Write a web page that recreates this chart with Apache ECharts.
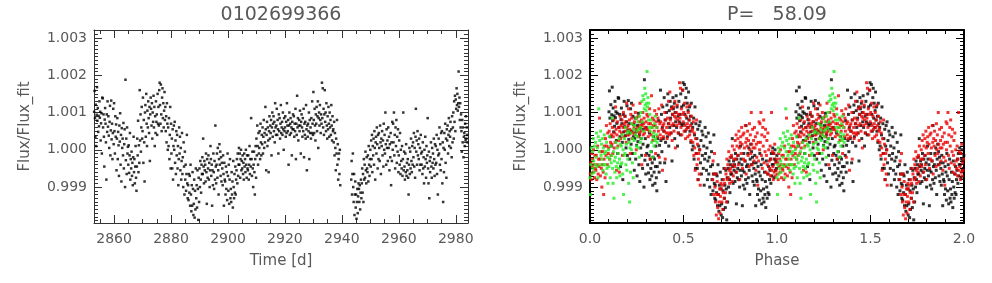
<!DOCTYPE html>
<html>
<head>
<meta charset="utf-8">
<script src="https://cdn.jsdelivr.net/npm/echarts@6/dist/echarts.min.js"></script>
<style>
html,body{margin:0;padding:0;background:#fff;}
#chart{width:992px;height:283px;}
</style>
</head>
<body>
<div id="chart"></div>
<script>
// ---- Light curve points [time (d), Flux/Flux_fit] ----
const segA = [
[2853.00,1.00102],[2853.14,1.00158],[2853.29,1.00085],[2853.43,1.00035],[2853.57,1.00121],[2853.71,1.00010],[2853.86,1.00094],
[2854.00,1.00168],[2854.14,1.00078],[2854.29,1.00112],[2854.43,1.00048],[2854.57,1.00091],[2854.71,1.00063],[2854.86,1.00130],
[2855.00,1.00086],[2855.14,1.00102],[2855.29,1.00025],[2855.43,1.00071],[2855.57,1.00098],[2855.71,0.99990],[2855.86,1.00140],
[2856.00,1.00138],[2856.14,1.00060],[2856.29,1.00095],[2856.43,1.00035],[2856.57,0.99955],[2856.71,1.00081],[2856.86,1.00112],
[2857.00,1.00070],[2857.14,1.00020],[2857.29,0.99920],[2857.43,1.00095],[2857.57,1.00048],[2857.71,1.00130],[2857.86,1.00062],
[2858.00,1.00090],[2858.14,1.00038],[2858.29,1.00005],[2858.43,1.00075],[2858.57,1.00118],[2858.71,0.99985],[2858.86,1.00052],
[2859.00,1.00132],[2859.14,1.00028],[2859.29,1.00070],[2859.43,0.99975],[2859.57,1.00045],[2859.71,1.00110],[2859.86,1.00015],
[2860.00,1.00125],[2860.14,1.00050],[2860.29,0.99990],[2860.43,1.00090],[2860.57,1.00035],[2860.71,1.00068],[2860.86,0.99945],
[2861.00,1.00030],[2861.14,1.00085],[2861.29,0.99975],[2861.43,1.00048],[2861.57,1.00012],[2861.71,0.99930],[2861.86,1.00065],
[2862.00,1.00022],[2862.14,1.00098],[2862.29,0.99960],[2862.43,1.00040],[2862.57,0.99915],[2862.71,1.00058],[2862.86,1.00005],
[2863.00,1.00030],[2863.14,0.99985],[2863.29,1.00072],[2863.43,0.99950],[2863.57,1.00015],[2863.71,1.00055],[2863.86,0.99900],
[2864.00,1.00188],[2864.14,0.99972],[2864.29,1.00030],[2864.43,0.99935],[2864.57,1.00060],[2864.71,0.99990],[2864.86,1.00008],
[2865.00,0.99960],[2865.14,1.00012],[2865.29,0.99938],[2865.43,0.99985],[2865.57,1.00045],[2865.71,0.99920],[2865.86,0.99975],
[2866.00,0.99950],[2866.14,0.99995],[2866.29,0.99930],[2866.43,0.99965],[2866.57,0.99905],[2866.71,0.99980],[2866.86,1.00035]
];
const segB = [
[2867.00,0.99940],[2867.14,0.99975],[2867.29,0.99910],[2867.43,0.99955],[2867.57,1.00010],[2867.71,0.99925],[2867.86,0.99890],
[2868.00,0.99955],[2868.14,1.00030],[2868.29,0.99985],[2868.43,1.00078],[2868.57,0.99940],[2868.71,1.00012],[2868.86,0.99965],
[2869.00,1.00160],[2869.14,1.00025],[2869.29,1.00095],[2869.43,0.99995],[2869.57,1.00060],[2869.71,1.00115],[2869.86,1.00030],
[2870.00,1.00050],[2870.14,1.00140],[2870.29,0.99965],[2870.43,1.00080],[2870.57,1.00020],[2870.71,0.99915],[2870.86,1.00100],
[2871.00,1.00120],[2871.14,1.00035],[2871.29,1.00150],[2871.43,1.00070],[2871.57,1.00010],[2871.71,1.00105],[2871.86,1.00060],
[2872.00,1.00130],[2872.14,1.00085],[2872.29,1.00045],[2872.43,1.00115],[2872.57,0.99970],[2872.71,1.00095],[2872.86,1.00140],
[2873.00,1.00110],[2873.14,1.00065],[2873.29,1.00125],[2873.43,1.00030],[2873.57,1.00100],[2873.71,1.00075],[2873.86,1.00145],
[2874.00,1.00060],[2874.14,1.00115],[2874.29,1.00010],[2874.43,1.00090],[2874.57,1.00045],[2874.71,1.00130],[2874.86,1.00075],
[2875.00,1.00095],[2875.14,1.00040],[2875.29,1.00150],[2875.43,1.00070],[2875.57,1.00115],[2875.71,1.00065],[2875.86,1.00160],
[2876.00,1.00180],[2876.14,1.00120],[2876.29,1.00070],[2876.43,1.00175],[2876.57,1.00095],[2876.71,1.00050],[2876.86,1.00140],
[2877.00,1.00165],[2877.14,1.00085],[2877.29,1.00125],[2877.43,1.00060],[2877.57,1.00105],[2877.71,1.00155],[2877.86,1.00080],
[2878.00,1.00115],[2878.14,1.00050],[2878.29,1.00090],[2878.43,1.00020],[2878.57,1.00125],[2878.71,1.00070],[2878.86,1.00000],
[2879.00,1.00060],[2879.14,1.00010],[2879.29,1.00085],[2879.43,0.99975],[2879.57,1.00040],[2879.71,1.00115],[2879.86,0.99950],
[2880.00,1.00070],[2880.14,0.99990],[2880.29,1.00030],[2880.43,0.99950],[2880.57,1.00055],[2880.71,0.99920],[2880.86,1.00010]
];
const segC = [
[2881.00,1.00065],[2881.14,1.00000],[2881.29,1.00075],[2881.43,0.99965],[2881.57,1.00025],[2881.71,0.99935],[2881.86,1.00050],
[2882.00,0.99985],[2882.14,1.00040],[2882.29,0.99950],[2882.43,1.00010],[2882.57,0.99905],[2882.71,0.99975],[2882.86,1.00060],
[2883.00,0.99990],[2883.14,1.00035],[2883.29,0.99945],[2883.43,1.00005],[2883.57,0.99920],[2883.71,0.99970],[2883.86,1.00045],
[2884.00,0.99935],[2884.14,0.99980],[2884.29,0.99900],[2884.43,1.00020],[2884.57,0.99955],[2884.71,0.99880],[2884.86,0.99995],
[2885.00,0.99920],[2885.14,0.99960],[2885.29,0.99890],[2885.43,0.99935],[2885.57,1.00040],[2885.71,0.99910],[2885.86,0.99870],
[2886.00,0.99905],[2886.14,0.99865],[2886.29,0.99935],[2886.43,0.99885],[2886.57,0.99930],[2886.71,0.99850],[2886.86,0.99960],
[2887.00,0.99880],[2887.14,0.99835],[2887.29,0.99905],[2887.43,0.99850],[2887.57,0.99940],[2887.71,0.99895],[2887.86,0.99825],
[2888.00,0.99855],[2888.14,0.99920],[2888.29,0.99818],[2888.43,0.99890],[2888.57,0.99840],[2888.71,0.99950],[2888.86,0.99870],
[2889.00,0.99905],[2889.14,0.99845],[2889.29,0.99945],[2889.43,0.99895],[2889.57,0.99812],[2889.71,0.99925],[2889.86,0.99860],
[2890.00,0.99950],[2890.14,0.99900],[2890.29,0.99970],[2890.43,0.99920],[2890.57,0.99885],[2890.71,0.99960],[2890.86,0.99935],
[2891.00,0.99980],[2891.14,0.99935],[2891.29,1.00030],[2891.43,0.99955],[2891.57,0.99910],[2891.71,0.99970],[2891.86,0.99945],
[2892.00,0.99960],[2892.14,0.99915],[2892.29,0.99990],[2892.43,0.99940],[2892.57,0.99855],[2892.71,0.99975],[2892.86,0.99925],
[2893.00,0.99950],[2893.14,0.99985],[2893.29,0.99920],[2893.43,0.99965],[2893.57,0.99900],[2893.71,0.99945],[2893.86,1.00010],
[2894.00,0.99975],[2894.14,0.99930],[2894.29,0.99960],[2894.43,0.99850],[2894.57,0.99945],[2894.71,0.99905],[2894.86,0.99990]
];
const segD = [
[2895.00,0.99940],[2895.14,0.99895],[2895.29,0.99970],[2895.43,0.99920],[2895.57,1.00065],[2895.71,0.99955],[2895.86,0.99910],
[2896.00,0.99960],[2896.14,0.99990],[2896.29,0.99925],[2896.43,1.00005],[2896.57,0.99945],[2896.71,0.99880],[2896.86,0.99975],
[2897.00,1.00015],[2897.14,0.99960],[2897.29,0.99995],[2897.43,0.99930],[2897.57,0.99980],[2897.71,0.99915],[2897.86,0.99965],
[2898.00,0.99950],[2898.14,0.99905],[2898.29,0.99985],[2898.43,0.99935],[2898.57,0.99850],[2898.71,0.99965],[2898.86,0.99920],
[2899.00,0.99915],[2899.14,0.99880],[2899.29,0.99955],[2899.43,0.99895],[2899.57,0.99940],[2899.71,0.99865],[2899.86,0.99990],
[2900.00,0.99930],[2900.14,0.99890],[2900.29,0.99960],[2900.43,0.99855],[2900.57,0.99920],[2900.71,0.99975],[2900.86,0.99870],
[2901.00,0.99895],[2901.14,0.99860],[2901.29,0.99940],[2901.43,0.99880],[2901.57,0.99915],[2901.71,0.99845],[2901.86,0.99970],
[2902.00,0.99900],[2902.14,0.99870],[2902.29,0.99935],[2902.43,0.99885],[2902.57,0.99955],[2902.71,0.99880],[2902.86,0.99920],
[2903.00,0.99945],[2903.14,0.99975],[2903.29,0.99910],[2903.43,0.99990],[2903.57,0.99930],[2903.71,0.99960],[2903.86,1.00005],
[2904.00,0.99960],[2904.14,0.99990],[2904.29,0.99925],[2904.43,0.99975],[2904.57,1.00000],[2904.71,0.99945],[2904.86,0.99970],
[2905.00,0.99950],[2905.14,0.99985],[2905.29,0.99935],[2905.43,0.99965],[2905.57,0.99920],[2905.71,0.99990],[2905.86,0.99955],
[2906.00,0.99975],[2906.14,0.99940],[2906.29,1.00000],[2906.43,0.99960],[2906.57,0.99925],[2906.71,0.99985],[2906.86,0.99950],
[2907.00,0.99945],[2907.14,0.99985],[2907.29,0.99920],[2907.43,0.99960],[2907.57,1.00010],[2907.71,0.99935],[2907.86,0.99975],
[2908.00,0.99955],[2908.14,1.00085],[2908.29,0.99975],[2908.43,0.99930],[2908.57,0.99995],[2908.71,0.99950],[2908.86,0.99900]
];
const segE = [
[2909.00,0.99960],[2909.14,0.99995],[2909.29,0.99940],[2909.43,0.99880],[2909.57,0.99975],[2909.71,1.00010],[2909.86,0.99925],
[2910.00,1.00030],[2910.14,0.99985],[2910.29,1.00065],[2910.43,1.00010],[2910.57,0.99960],[2910.71,1.00045],[2910.86,0.99990],
[2911.00,1.00005],[2911.14,1.00050],[2911.29,0.99975],[2911.43,1.00070],[2911.57,1.00020],[2911.71,0.99985],[2911.86,1.00040],
[2912.00,1.00015],[2912.14,1.00060],[2912.29,0.99990],[2912.43,1.00035],[2912.57,1.00080],[2912.71,1.00005],[2912.86,1.00045],
[2913.00,1.00020],[2913.14,1.00115],[2913.29,1.00055],[2913.43,0.99945],[2913.57,1.00040],[2913.71,1.00075],[2913.86,1.00010],
[2914.00,1.00060],[2914.14,1.00025],[2914.29,0.99940],[2914.43,1.00050],[2914.57,1.00090],[2914.71,1.00030],[2914.86,1.00065],
[2915.00,1.00045],[2915.14,1.00080],[2915.29,0.99985],[2915.43,1.00060],[2915.57,1.00100],[2915.71,1.00035],[2915.86,1.00070],
[2916.00,1.00090],[2916.14,1.00050],[2916.29,1.00075],[2916.43,1.00020],[2916.57,1.00125],[2916.71,1.00060],[2916.86,1.00040],
[2917.00,1.00065],[2917.14,1.00110],[2917.29,1.00040],[2917.43,1.00080],[2917.57,1.00055],[2917.71,0.99990],[2917.86,1.00095],
[2918.00,1.00050],[2918.14,1.00085],[2918.29,1.00030],[2918.43,1.00070],[2918.57,1.00120],[2918.71,1.00045],[2918.86,1.00060],
[2919.00,1.00075],[2919.14,1.00040],[2919.29,1.00100],[2919.43,1.00055],[2919.57,1.00000],[2919.71,1.00085],[2919.86,1.00050],
[2920.00,1.00060],[2920.14,1.00090],[2920.29,1.00035],[2920.43,1.00075],[2920.57,1.00045],[2920.71,1.00125],[2920.86,1.00065],
[2921.00,1.00050],[2921.14,1.00080],[2921.29,0.99960],[2921.43,1.00065],[2921.57,1.00100],[2921.71,1.00040],[2921.86,1.00070],
[2922.00,1.00085],[2922.14,1.00045],[2922.29,1.00060],[2922.43,0.99985],[2922.57,1.00075],[2922.71,1.00055],[2922.86,1.00095]
];
const segF = [
[2923.00,1.00055],[2923.14,1.00090],[2923.29,1.00035],[2923.43,1.00070],[2923.57,1.00050],[2923.71,1.00110],[2923.86,0.99975],
[2924.00,1.00070],[2924.14,1.00040],[2924.29,1.00145],[2924.43,1.00060],[2924.57,1.00085],[2924.71,1.00025],[2924.86,1.00065],
[2925.00,1.00080],[2925.14,1.00050],[2925.29,1.00105],[2925.43,1.00065],[2925.57,0.99990],[2925.71,1.00075],[2925.86,1.00095],
[2926.00,1.00060],[2926.14,1.00035],[2926.29,1.00085],[2926.43,1.00050],[2926.57,1.00110],[2926.71,0.99980],[2926.86,1.00070],
[2927.00,1.00040],[2927.14,1.00075],[2927.29,1.00030],[2927.43,1.00120],[2927.57,1.00055],[2927.71,0.99945],[2927.86,1.00065],
[2928.00,1.00035],[2928.14,1.00070],[2928.29,1.00050],[2928.43,1.00100],[2928.57,0.99975],[2928.71,1.00080],[2928.86,1.00045],
[2929.00,1.00060],[2929.14,1.00030],[2929.29,1.00085],[2929.43,1.00045],[2929.57,1.00130],[2929.71,1.00070],[2929.86,1.00040],
[2930.00,1.00155],[2930.14,1.00080],[2930.29,1.00045],[2930.43,1.00110],[2930.57,1.00065],[2930.71,1.00025],[2930.86,1.00095],
[2931.00,1.00070],[2931.14,1.00115],[2931.29,1.00050],[2931.43,1.00090],[2931.57,1.00130],[2931.71,1.00005],[2931.86,1.00085],
[2932.00,1.00100],[2932.14,1.00065],[2932.29,1.00120],[2932.43,1.00080],[2932.57,1.00045],[2932.71,1.00095],[2932.86,1.00070],
[2933.00,1.00180],[2933.14,1.00085],[2933.29,1.00165],[2933.43,1.00060],[2933.57,1.00110],[2933.71,1.00040],[2933.86,1.00095],
[2934.00,1.00160],[2934.14,1.00075],[2934.29,1.00100],[2934.43,1.00050],[2934.57,1.00125],[2934.71,1.00065],[2934.86,1.00030],
[2935.00,1.00090],[2935.14,1.00055],[2935.29,1.00115],[2935.43,1.00070],[2935.57,1.00035],[2935.71,1.00100],[2935.86,1.00060],
[2936.00,1.00080],[2936.14,1.00040],[2936.29,1.00120],[2936.43,1.00065],[2936.57,1.00025],[2936.71,1.00090],[2936.86,1.00050],
[2937.00,1.00055],[2937.14,1.00020],[2937.29,1.00075],[2937.43,0.99985],[2937.57,1.00045],[2937.71,1.00005],[2937.86,0.99945],
[2938.00,1.00030],[2938.14,0.99990],[2938.29,1.00080],[2938.43,0.99960],[2938.57,1.00015],[2938.71,0.99920],[2938.86,0.99975],
[2939.00,0.99990],[2939.14,0.99935],[2939.29,1.00000],[2939.43,0.99905]
];
const segG = [
[2943.29,0.99920],[2943.43,0.99970],[2943.57,0.99880],[2943.71,0.99935],[2943.86,0.99990],
[2944.00,0.99900],[2944.14,0.99860],[2944.29,0.99935],[2944.43,0.99825],[2944.57,0.99880],[2944.71,0.99915],[2944.86,0.99845],
[2945.00,0.99880],[2945.14,0.99815],[2945.29,0.99860],[2945.43,0.99895],[2945.57,0.99830],[2945.71,0.99875],[2945.86,0.99910],
[2946.00,0.99895],[2946.14,0.99860],[2946.29,0.99905],[2946.43,0.99840],[2946.57,0.99885],[2946.71,0.99920],[2946.86,0.99870],
[2947.00,0.99910],[2947.14,0.99950],[2947.29,0.99885],[2947.43,0.99935],[2947.57,0.99860],[2947.71,0.99975],[2947.86,0.99920],
[2948.00,0.99960],[2948.14,0.99925],[2948.29,0.99995],[2948.43,0.99945],[2948.57,0.99910],[2948.71,0.99980],[2948.86,0.99950],
[2949.00,0.99940],[2949.14,0.99985],[2949.29,0.99915],[2949.43,1.00010],[2949.57,0.99960],[2949.71,0.99930],[2949.86,0.99975],
[2950.00,1.00000],[2950.14,0.99955],[2950.29,1.00025],[2950.43,0.99975],[2950.57,1.00040],[2950.71,0.99940],[2950.86,1.00010],
[2951.00,0.99985],[2951.14,1.00030],[2951.29,0.99960],[2951.43,1.00050],[2951.57,1.00005],[2951.71,0.99920],[2951.86,1.00020],
[2952.00,1.00035],[2952.14,0.99990],[2952.29,1.00060],[2952.43,1.00015],[2952.57,0.99950],[2952.71,1.00040],[2952.86,0.99975],
[2953.00,1.00045],[2953.14,1.00005],[2953.29,0.99970],[2953.43,1.00065],[2953.57,1.00020],[2953.71,0.99935],[2953.86,1.00030],
[2954.00,1.00010],[2954.14,1.00050],[2954.29,0.99985],[2954.43,1.00025],[2954.57,0.99955],[2954.71,1.00070],[2954.86,1.00000],
[2955.00,1.00040],[2955.14,0.99990],[2955.29,1.00100],[2955.43,1.00015],[2955.57,0.99960],[2955.71,1.00055],[2955.86,1.00005],
[2956.00,1.00025],[2956.14,0.99970],[2956.29,1.00060],[2956.43,1.00005],[2956.57,1.00035],[2956.71,0.99945],[2956.86,1.00015]
];
const segH = [
[2957.00,0.99980],[2957.14,1.00045],[2957.29,0.99905],[2957.43,1.00020],[2957.57,0.99970],[2957.71,1.00075],[2957.86,1.00000],
[2958.00,1.00070],[2958.14,1.00020],[2958.29,1.00100],[2958.43,0.99985],[2958.57,1.00040],[2958.71,0.99950],[2958.86,1.00060],
[2959.00,1.00010],[2959.14,1.00080],[2959.29,0.99965],[2959.43,1.00035],[2959.57,0.99995],[2959.71,1.00055],[2959.86,0.99940],
[2960.00,0.99985],[2960.14,1.00025],[2960.29,0.99960],[2960.43,1.00045],[2960.57,0.99935],[2960.71,1.00000],[2960.86,0.99970],
[2961.00,0.99950],[2961.14,1.00010],[2961.29,0.99930],[2961.43,0.99975],[2961.57,1.00100],[2961.71,0.99945],[2961.86,0.99995],
[2962.00,0.99955],[2962.14,0.99920],[2962.29,0.99990],[2962.43,0.99940],[2962.57,1.00015],[2962.71,0.99930],[2962.86,0.99965],
[2963.00,0.99945],[2963.14,0.99975],[2963.29,0.99925],[2963.43,0.99880],[2963.57,0.99960],[2963.71,1.00005],[2963.86,0.99935],
[2964.00,0.99995],[2964.14,0.99950],[2964.29,1.00030],[2964.43,0.99970],[2964.57,0.99940],[2964.71,1.00010],[2964.86,0.99960],
[2965.00,1.00020],[2965.14,0.99980],[2965.29,1.00045],[2965.43,0.99955],[2965.57,1.00005],[2965.71,0.99925],[2965.86,1.00035],
[2966.00,1.00110],[2966.14,0.99995],[2966.29,1.00025],[2966.43,0.99960],[2966.57,1.00050],[2966.71,0.99985],[2966.86,1.00015],
[2967.00,0.99975],[2967.14,1.00030],[2967.29,0.99945],[2967.43,1.00005],[2967.57,0.99960],[2967.71,1.00040],[2967.86,0.99990],
[2968.00,0.99960],[2968.14,0.99995],[2968.29,0.99935],[2968.43,1.00020],[2968.57,0.99950],[2968.71,0.99980],[2968.86,0.99910],
[2969.00,1.00000],[2969.14,0.99955],[2969.29,1.00035],[2969.43,0.99975],[2969.57,0.99925],[2969.71,1.00010],[2969.86,0.99965],
[2970.00,0.99985],[2970.14,1.00085],[2970.29,0.99950],[2970.43,0.99910],[2970.57,0.99995],[2970.71,0.99870],[2970.86,0.99970]
];
const segI = [
[2971.00,0.99940],[2971.14,0.99980],[2971.29,1.00020],[2971.43,0.99955],[2971.57,0.99925],[2971.71,1.00005],[2971.86,0.99965],
[2972.00,0.99990],[2972.14,0.99950],[2972.29,1.00030],[2972.43,0.99975],[2972.57,0.99930],[2972.71,1.00015],[2972.86,0.99960],
[2973.00,1.00010],[2973.14,0.99965],[2973.29,1.00040],[2973.43,0.99935],[2973.57,1.00000],[2973.71,0.99880],[2973.86,0.99985],
[2974.00,1.00030],[2974.14,0.99990],[2974.29,1.00060],[2974.43,0.99960],[2974.57,1.00015],[2974.71,0.99945],[2974.86,1.00045],
[2975.00,0.99975],[2975.14,1.00050],[2975.29,0.99910],[2975.43,1.00020],[2975.57,0.99860],[2975.71,1.00005],[2975.86,0.99940],
[2976.00,1.00045],[2976.14,1.00000],[2976.29,1.00070],[2976.43,0.99965],[2976.57,1.00030],[2976.71,0.99925],[2976.86,1.00055],
[2977.00,1.00025],[2977.14,1.00065],[2977.29,0.99990],[2977.43,1.00040],[2977.57,1.00085],[2977.71,1.00010],[2977.86,1.00050],
[2978.00,1.00035],[2978.14,1.00075],[2978.29,1.00005],[2978.43,1.00055],[2978.57,0.99980],[2978.71,1.00090],[2978.86,1.00020],
[2979.00,1.00060],[2979.14,1.00100],[2979.29,1.00030],[2979.43,1.00130],[2979.57,1.00075],[2979.71,1.00145],[2979.86,1.00050],
[2980.00,1.00135],[2980.14,1.00110],[2980.29,1.00165],[2980.43,1.00120],[2980.57,1.00150],[2980.71,1.00105],[2980.86,1.00125],
[2981.00,1.00210],[2981.14,1.00115],[2981.29,1.00140],[2981.43,1.00080],[2981.57,1.00125],[2981.71,1.00060],[2981.86,1.00095],
[2982.00,1.00050],[2982.14,0.99995],[2982.29,1.00080],[2982.43,1.00020],[2982.57,1.00060],[2982.71,0.99980],[2982.86,1.00035],
[2983.00,1.00045],[2983.14,1.00010],[2983.29,1.00070],[2983.43,1.00025],[2983.57,1.00090],[2983.71,1.00030],[2983.86,1.00060],
[2984.00,1.00040],[2984.14,1.00020]
];

// ---- Labels / constants ----
const starId = '0102699366';
const period = 58.09;          // days
const epoch = 2847.1;          // phase-zero time (d)
const timeTicks = [2860, 2880, 2900, 2920, 2940, 2960, 2980];
const phaseTicks = [0.0, 0.5, 1.0, 1.5, 2.0];
const fluxTicks = [0.999, 1.000, 1.001, 1.002, 1.003];
const cycleColors = ['#000000', '#ee0000', '#22ee22'];

// ---- Build series ----
const lightCurve = [].concat(segA, segB, segC, segD, segE, segF, segG, segH, segI);
const folded = [[], [], []];
lightCurve.forEach(([t, f]) => {
  const cyc = Math.min(2, Math.floor((t - epoch) / period));
  let ph = ((t - epoch) / period) % 1;
  if (ph < 0) ph += 1;
  folded[cyc].push([ph, f]);
  folded[cyc].push([ph + 1, f]);
});

const yMin = 0.998036, yMax = 1.003214;
const xMin = 2852.95, xMax = 2984.3;
const FONT = 'DejaVu Sans';
const TXT = '#595959';

function range(a, b, step) { const out = []; for (let v = a; v <= b + 1e-9; v += step) out.push(+v.toFixed(6)); return out; }
const timeMinor = range(2855, 2980, 5);
const phaseMinor = range(0.1, 1.9, 0.1);
const fluxMinor = range(0.9981, 1.0032, 0.0001);

function xAxes(grid, min, max, major, minor, labelFmt, name, lineColor, lineWidth) {
  const base = { gridIndex: grid, type: 'value', min, max, splitLine: { show: false } };
  const tickStyle = { color: lineColor, width: 1 };
  return [
    Object.assign({}, base, {
      position: 'bottom', name, nameLocation: 'middle', nameGap: 31,
      nameTextStyle: { fontFamily: FONT, fontSize: 15, color: TXT },
      axisLine: { show: true, onZero: false, lineStyle: { color: lineColor, width: lineWidth } },
      axisTick: { show: true, inside: true, length: 8, customValues: major, lineStyle: tickStyle },
      axisLabel: { show: true, margin: 9, customValues: major, formatter: labelFmt, fontFamily: FONT, fontSize: 14, color: TXT }
    }),
    Object.assign({}, base, {
      position: 'bottom', axisLine: { show: false, onZero: false },
      axisTick: { show: true, inside: true, length: 4, customValues: minor, lineStyle: tickStyle },
      axisLabel: { show: false }
    }),
    Object.assign({}, base, {
      position: 'top',
      axisLine: { show: true, onZero: false, lineStyle: { color: lineColor, width: lineWidth } },
      axisTick: { show: true, inside: true, length: 8, customValues: major, lineStyle: tickStyle },
      axisLabel: { show: false }
    }),
    Object.assign({}, base, {
      position: 'top', axisLine: { show: false, onZero: false },
      axisTick: { show: true, inside: true, length: 4, customValues: minor, lineStyle: tickStyle },
      axisLabel: { show: false }
    })
  ];
}
function yAxes(grid, lineColor, lineWidth) {
  const base = { gridIndex: grid, type: 'value', min: yMin, max: yMax, splitLine: { show: false } };
  const tickStyle = { color: lineColor, width: 1 };
  return [
    Object.assign({}, base, {
      position: 'left', name: 'Flux/Flux_fit', nameLocation: 'middle', nameGap: 61,
      nameTextStyle: { fontFamily: FONT, fontSize: 15, color: TXT },
      axisLine: { show: true, onZero: false, lineStyle: { color: lineColor, width: lineWidth } },
      axisTick: { show: true, inside: true, length: 8, customValues: fluxTicks, lineStyle: tickStyle },
      axisLabel: { show: true, margin: 7, customValues: fluxTicks, formatter: v => v.toFixed(3), fontFamily: FONT, fontSize: 14, color: TXT }
    }),
    Object.assign({}, base, {
      position: 'left', axisLine: { show: false, onZero: false },
      axisTick: { show: true, inside: true, length: 4, customValues: fluxMinor, lineStyle: tickStyle },
      axisLabel: { show: false }
    }),
    Object.assign({}, base, {
      position: 'right',
      axisLine: { show: true, onZero: false, lineStyle: { color: lineColor, width: lineWidth } },
      axisTick: { show: true, inside: true, length: 8, customValues: fluxTicks, lineStyle: tickStyle },
      axisLabel: { show: false }
    }),
    Object.assign({}, base, {
      position: 'right', axisLine: { show: false, onZero: false },
      axisTick: { show: true, inside: true, length: 4, customValues: fluxMinor, lineStyle: tickStyle },
      axisLabel: { show: false }
    })
  ];
}

const xA = [].concat(
  xAxes(0, xMin, xMax, timeTicks, timeMinor, v => String(Math.round(v)), 'Time [d]', '#333333', 1),
  xAxes(1, 0, 2, phaseTicks, phaseMinor, v => v.toFixed(1), 'Phase', '#000000', 2)
);
const yA = [].concat(yAxes(0, '#333333', 1), yAxes(1, '#000000', 2));

const chart = echarts.init(document.getElementById('chart'), null, { renderer: 'canvas' });
chart.setOption({
  animation: false,
  backgroundColor: '#ffffff',
  grid: [
    { left: 94, top: 30, width: 374, height: 193 },
    { left: 590, top: 30, width: 374, height: 193 }
  ],
  xAxis: xA,
  yAxis: yA,
  graphic: [
    { type: 'text', x: 281, y: 15, style: { text: starId, fill: TXT, font: '19px "DejaVu Sans"', textAlign: 'center', textVerticalAlign: 'middle' } },
    { type: 'text', x: 777, y: 15, style: { text: 'P=   ' + period.toFixed(2), fill: TXT, font: '19px "DejaVu Sans"', textAlign: 'center', textVerticalAlign: 'middle' } }
  ],
  series: [
    { type: 'scatter', xAxisIndex: 0, yAxisIndex: 0, data: lightCurve, symbol: 'rect', symbolSize: 2.5, itemStyle: { color: '#000000' }, silent: true },
    { type: 'scatter', xAxisIndex: 4, yAxisIndex: 4, data: folded[0], symbol: 'rect', symbolSize: 3, itemStyle: { color: cycleColors[0] }, silent: true },
    { type: 'scatter', xAxisIndex: 4, yAxisIndex: 4, data: folded[1], symbol: 'rect', symbolSize: 3, itemStyle: { color: cycleColors[1] }, silent: true },
    { type: 'scatter', xAxisIndex: 4, yAxisIndex: 4, data: folded[2], symbol: 'rect', symbolSize: 3, itemStyle: { color: cycleColors[2] }, silent: true }
  ]
});
</script>
</body>
</html>
